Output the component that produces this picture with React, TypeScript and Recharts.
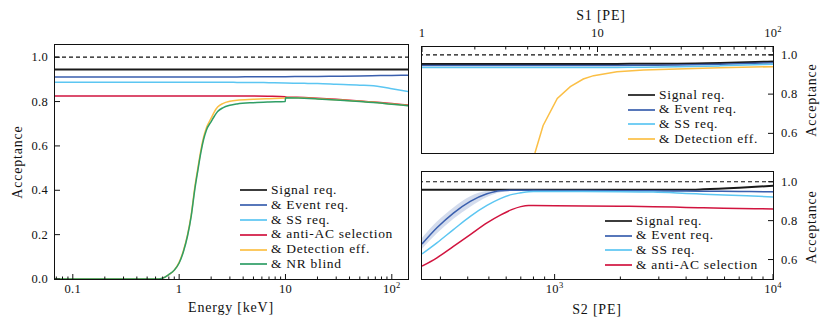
import React from "react";
import { Area, ComposedChart, Line, ReferenceLine, XAxis, YAxis } from "recharts";

// ---- left panel: acceptance vs. energy ----
const energyKeV = [0.068, 0.1, 0.2, 0.4, 0.6, 0.7, 0.8, 0.9, 1.0, 1.1, 1.2, 1.3, 1.4, 1.5, 1.6, 1.7, 1.8, 2.0, 2.15, 2.3, 2.6, 3.0, 3.5, 5, 7, 9.95, 10, 15, 20, 30, 50, 78, 100, 142];
const energySignal = [0.945, 0.945, 0.945, 0.945, 0.945, 0.945, 0.945, 0.945, 0.945, 0.945, 0.945, 0.945, 0.945, 0.945, 0.945, 0.945, 0.945, 0.945, 0.945, 0.945, 0.945, 0.945, 0.945, 0.945, 0.945, 0.945, 0.945, 0.945, 0.945, 0.945, 0.945, 0.945, 0.945, 0.945];
const energyEvent = [0.911, 0.911, 0.911, 0.911, 0.911, 0.911, 0.911, 0.911, 0.911, 0.911, 0.911, 0.911, 0.911, 0.911, 0.911, 0.911, 0.911, 0.911, 0.911, 0.911, 0.911, 0.911, 0.911, 0.912, 0.912, 0.912, 0.912, 0.913, 0.913, 0.914, 0.915, 0.917, 0.918, 0.919];
const energySS = [0.887, 0.887, 0.887, 0.887, 0.887, 0.887, 0.887, 0.887, 0.887, 0.887, 0.887, 0.887, 0.887, 0.887, 0.887, 0.887, 0.887, 0.887, 0.887, 0.887, 0.887, 0.887, 0.886, 0.886, 0.885, 0.884, 0.884, 0.882, 0.881, 0.878, 0.874, 0.867, 0.858, 0.845];
const energyAntiAC = [0.825, 0.825, 0.825, 0.825, 0.825, 0.825, 0.825, 0.825, 0.825, 0.825, 0.825, 0.825, 0.825, 0.825, 0.825, 0.825, 0.825, 0.825, 0.825, 0.825, 0.825, 0.825, 0.825, 0.825, 0.824, 0.822, 0.821, 0.818, 0.815, 0.81, 0.803, 0.796, 0.791, 0.784];
const energyDetection = [0, 0, 0, 0, 0, 0.004, 0.02, 0.04, 0.075, 0.13, 0.2, 0.29, 0.41, 0.5, 0.58, 0.64, 0.68, 0.725, 0.755, 0.775, 0.792, 0.801, 0.806, 0.81, 0.813, 0.816, 0.818, 0.816, 0.813, 0.808, 0.801, 0.794, 0.789, 0.782];
const energyNRBlind = [0, 0, 0, 0, 0, 0.004, 0.02, 0.04, 0.072, 0.125, 0.195, 0.285, 0.4, 0.49, 0.57, 0.63, 0.67, 0.71, 0.735, 0.755, 0.773, 0.783, 0.789, 0.795, 0.798, 0.8, 0.817, 0.815, 0.812, 0.807, 0.8, 0.793, 0.788, 0.781];

// ---- top right: acceptance vs. S1 ----
const s1PE = [1, 2, 3, 4, 4.4, 4.9, 5.9, 7, 8.3, 9.5, 12.9, 18.3, 28.5, 50, 100];
const s1Signal = [0.954, 0.954, 0.954, 0.954, 0.954, 0.954, 0.954, 0.954, 0.954, 0.954, 0.954, 0.955, 0.955, 0.958, 0.966];
const s1Event = [0.946, 0.946, 0.946, 0.946, 0.946, 0.946, 0.946, 0.946, 0.946, 0.946, 0.946, 0.947, 0.948, 0.952, 0.96];
const s1SS = [0.935, 0.935, 0.935, 0.935, 0.935, 0.935, 0.935, 0.935, 0.935, 0.935, 0.936, 0.937, 0.939, 0.944, 0.952];
const s1Detection = [null, null, null, 0.4, 0.5, 0.64, 0.778, 0.838, 0.877, 0.894, 0.914, 0.923, 0.928, 0.934, 0.94];

// ---- bottom right: acceptance vs. S2 ----
const s2PE = [247, 289, 344, 411, 490, 564, 640, 700, 760, 800, 1000, 2000, 2830, 4000, 4800, 7000, 10000];
const s2Signal = [0.959, 0.959, 0.959, 0.959, 0.959, 0.959, 0.959, 0.959, 0.959, 0.959, 0.959, 0.959, 0.959, 0.959, 0.961, 0.969, 0.979];
const s2Event = [0.68, 0.763, 0.839, 0.899, 0.938, 0.954, 0.956, 0.956, 0.956, 0.956, 0.955, 0.954, 0.953, 0.952, 0.951, 0.95, 0.948];
const s2EventLo = [0.655, 0.735, 0.81, 0.872, 0.922, 0.946, 0.952, 0.953, 0.953, 0.953, 0.952, 0.951, 0.95, 0.949, 0.948, 0.947, 0.945];
const s2EventHi = [0.712, 0.795, 0.868, 0.925, 0.953, 0.96, 0.96, 0.959, 0.959, 0.959, 0.958, 0.957, 0.956, 0.955, 0.954, 0.953, 0.951];
const s2SS = [0.629, 0.686, 0.754, 0.822, 0.878, 0.913, 0.935, 0.943, 0.949, 0.95, 0.95, 0.949, 0.947, 0.94, 0.936, 0.929, 0.922];
const s2AntiAC = [0.566, 0.609, 0.668, 0.728, 0.788, 0.828, 0.858, 0.872, 0.878, 0.878, 0.877, 0.874, 0.872, 0.868, 0.866, 0.863, 0.86];

const accTicksLeft = [0, 0.2, 0.4, 0.6, 0.8, 1.0];
const accTicksRight = [0.6, 0.8, 1.0];

const C = {
  signal: "#1a1a1a",
  event: "#3a5fae",
  ss: "#5cc6f2",
  antiAC: "#d1143f",
  detection: "#fbbf45",
  nr: "#2f9e66",
};

const FONT = "'Liberation Serif', serif";

const energyRows = energyKeV.map((e, i) => ({
  e,
  signal: energySignal[i],
  event: energyEvent[i],
  ss: energySS[i],
  antiAC: energyAntiAC[i],
  detection: energyDetection[i],
  nr: energyNRBlind[i],
}));

const s1Rows = s1PE.map((s, i) => ({
  s,
  signal: s1Signal[i],
  event: s1Event[i],
  ss: s1SS[i],
  detection: s1Detection[i],
}));

const s2Rows = s2PE.map((s, i) => ({
  s,
  signal: s2Signal[i],
  event: s2Event[i],
  eventBand: [s2EventLo[i], s2EventHi[i]],
  ss: s2SS[i],
  antiAC: s2AntiAC[i],
}));

// 1..9 x 10^n ticks inside [lo, hi]
function logTicks(lo: number, hi: number) {
  const out: number[] = [];
  for (let d = Math.floor(Math.log10(lo)); d <= Math.ceil(Math.log10(hi)); d++) {
    for (let m = 1; m < 10; m++) {
      const v = m * Math.pow(10, d);
      if (v >= lo && v <= hi) out.push(Number(v.toPrecision(3)));
    }
  }
  return out;
}

const isDecade = (v: number) => Math.abs(Math.log10(v) - Math.round(Math.log10(v))) < 1e-6;

function logLabel(v: number) {
  const p = Math.round(Math.log10(v));
  if (p <= 1 && p >= -1) return <tspan>{String(v)}</tspan>;
  return (
    <>
      <tspan>10</tspan>
      <tspan dy={-5} fontSize={8.5}>{p}</tspan>
    </>
  );
}

type Side = "bottom" | "top" | "left" | "right";

function makeTick(side: Side, log: boolean) {
  return (props: any) => {
    const { x, y, payload } = props;
    const v = payload.value as number;
    const major = log ? isDecade(v) : true;
    const len = major ? 5 : 2.5;
    const style = { fontFamily: FONT, fontSize: 12.5, fill: "#111", letterSpacing: 0.3 };
    let line;
    let label = null;
    if (side === "bottom") {
      line = <line x1={x} x2={x} y1={y} y2={y - len} stroke="#111" />;
      if (major)
        label = (
          <text x={x} y={y + 14} textAnchor="middle" {...style}>
            {logLabel(v)}
          </text>
        );
    } else if (side === "top") {
      line = <line x1={x} x2={x} y1={y} y2={y + len} stroke="#111" />;
      if (major)
        label = (
          <text x={x} y={y - 10} textAnchor="middle" {...style}>
            {logLabel(v)}
          </text>
        );
    } else if (side === "left") {
      line = <line x1={x} x2={x + len} y1={y} y2={y} stroke="#111" />;
      label = (
        <text x={x - 7} y={y + 4} textAnchor="end" {...style}>
          {v.toFixed(1)}
        </text>
      );
    } else {
      line = <line x1={x} x2={x - len} y1={y} y2={y} stroke="#111" />;
      label = (
        <text x={x + 8} y={y + 4} textAnchor="start" {...style}>
          {v.toFixed(1)}
        </text>
      );
    }
    return (
      <g>
        {line}
        {label}
      </g>
    );
  };
}

function Frame({ left, top, width, height }: { left: number; top: number; width: number; height: number }) {
  return (
    <div
      style={{
        position: "absolute",
        left: left - 0.75,
        top: top - 0.75,
        width: width + 1.5,
        height: height + 1.5,
        border: "1.5px solid #111",
        boxSizing: "border-box",
        pointerEvents: "none",
      }}
    />
  );
}

function Legend({ left, top, items }: { left: number; top: number; items: { name: string; color: string }[] }) {
  return (
    <div style={{ position: "absolute", left, top, fontFamily: FONT, fontSize: 13.5, letterSpacing: 0.7, color: "#111", lineHeight: "14.8px" }}>
      {items.map((it) => (
        <div key={it.name} style={{ display: "flex", alignItems: "center", whiteSpace: "nowrap", height: 14.8 }}>
          <span style={{ display: "inline-block", width: 27, height: 2, background: it.color, opacity: 0.85, marginRight: 4 }} />
          <span>{it.name}</span>
        </div>
      ))}
    </div>
  );
}

function Title({ x, y, text, rotate }: { x: number; y: number; text: string; rotate?: boolean }) {
  return (
    <div
      style={{
        position: "absolute",
        left: x,
        top: y,
        transform: `translate(-50%, -50%)${rotate ? " rotate(-90deg)" : ""}`,
        fontFamily: FONT,
        fontSize: 14,
        letterSpacing: 0.8,
        color: "#111",
        whiteSpace: "nowrap",
      }}
    >
      {text}
    </div>
  );
}

const lineProps = { dot: false, isAnimationActive: false, type: "monotone" as const, strokeWidth: 1.5 };

export default function App() {
  return (
    <div style={{ position: "absolute", left: 0, top: 0, width: 830, height: 329, background: "#fff", overflow: "hidden" }}>
      {/* left panel */}
      <div style={{ position: "absolute", left: 0, top: 0 }}>
        <ComposedChart width={420} height={329} data={energyRows} margin={{ top: 45, right: 12, left: 0, bottom: 0 }}>
          <XAxis
            dataKey="e"
            type="number"
            scale="log"
            domain={[0.068, 142]}
            allowDataOverflow
            ticks={logTicks(0.068, 142)}
            interval={0}
            height={50}
            tickSize={0}
            tickMargin={0}
            axisLine={false}
            tick={makeTick("bottom", true)}
          />
          <YAxis
            type="number"
            domain={[0, 1.055]}
            allowDataOverflow
            ticks={accTicksLeft}
            interval={0}
            width={55}
            tickSize={0}
            tickMargin={0}
            axisLine={false}
            tick={makeTick("left", false)}
          />
          <ReferenceLine y={1} stroke="#111" strokeDasharray="4 3" strokeWidth={1.2} />
          <Line dataKey="signal" stroke={C.signal} {...lineProps} strokeWidth={2} />
          <Line dataKey="event" stroke={C.event} {...lineProps} />
          <Line dataKey="ss" stroke={C.ss} {...lineProps} />
          <Line dataKey="antiAC" stroke={C.antiAC} {...lineProps} />
          <Line dataKey="detection" stroke={C.detection} {...lineProps} />
          <Line dataKey="nr" stroke={C.nr} {...lineProps} />
        </ComposedChart>
      </div>
      <Frame left={55} top={45} width={353} height={234} />
      <Legend
        left={240}
        top={183}
        items={[
          { name: "Signal req.", color: C.signal },
          { name: "& Event req.", color: C.event },
          { name: "& SS req.", color: C.ss },
          { name: "& anti-AC selection", color: C.antiAC },
          { name: "& Detection eff.", color: C.detection },
          { name: "& NR blind", color: C.nr },
        ]}
      />
      <Title x={231} y={308} text="Energy [keV]" />
      <Title x={18} y={162} text="Acceptance" rotate />

      {/* top right panel */}
      <div style={{ position: "absolute", left: 410, top: 0 }}>
        <ComposedChart width={420} height={165} data={s1Rows} margin={{ top: 0, right: 0, left: 12, bottom: 12 }}>
          <XAxis
            dataKey="s"
            type="number"
            scale="log"
            orientation="top"
            domain={[1, 100]}
            allowDataOverflow
            ticks={logTicks(1, 100)}
            interval={0}
            height={47}
            tickSize={0}
            tickMargin={0}
            axisLine={false}
            tick={makeTick("top", true)}
          />
          <YAxis
            type="number"
            orientation="right"
            domain={[0.5, 1.04]}
            allowDataOverflow
            ticks={accTicksRight}
            interval={0}
            width={57}
            tickSize={0}
            tickMargin={0}
            axisLine={false}
            tick={makeTick("right", false)}
          />
          <ReferenceLine y={1} stroke="#111" strokeDasharray="4 3" strokeWidth={1.2} />
          <Line dataKey="signal" stroke={C.signal} {...lineProps} strokeWidth={2} />
          <Line dataKey="event" stroke={C.event} {...lineProps} />
          <Line dataKey="ss" stroke={C.ss} {...lineProps} />
          <Line dataKey="detection" stroke={C.detection} {...lineProps} type="linear" />
        </ComposedChart>
      </div>
      <Frame left={422} top={47} width={351} height={106} />
      <Legend
        left={628}
        top={87.5}
        items={[
          { name: "Signal req.", color: C.signal },
          { name: "& Event req.", color: C.event },
          { name: "& SS req.", color: C.ss },
          { name: "& Detection eff.", color: C.detection },
        ]}
      />
      <Title x={601} y={16} text="S1 [PE]" />
      <Title x={812} y={100} text="Acceptance" rotate />

      {/* bottom right panel */}
      <div style={{ position: "absolute", left: 410, top: 160 }}>
        <ComposedChart width={420} height={169} data={s2Rows} margin={{ top: 12, right: 0, left: 12, bottom: 0 }}>
          <XAxis
            dataKey="s"
            type="number"
            scale="log"
            domain={[247, 10000]}
            allowDataOverflow
            ticks={logTicks(247, 10000)}
            interval={0}
            height={50}
            tickSize={0}
            tickMargin={0}
            axisLine={false}
            tick={makeTick("bottom", true)}
          />
          <YAxis
            type="number"
            orientation="right"
            domain={[0.5, 1.05]}
            allowDataOverflow
            ticks={accTicksRight}
            interval={0}
            width={57}
            tickSize={0}
            tickMargin={0}
            axisLine={false}
            tick={makeTick("right", false)}
          />
          <ReferenceLine y={1} stroke="#111" strokeDasharray="4 3" strokeWidth={1.2} />
          <Area dataKey="eventBand" type="monotone" stroke="none" fill={C.event} fillOpacity={0.22} isAnimationActive={false} />
          <Line dataKey="signal" stroke={C.signal} {...lineProps} strokeWidth={2} />
          <Line dataKey="event" stroke={C.event} {...lineProps} />
          <Line dataKey="ss" stroke={C.ss} {...lineProps} />
          <Line dataKey="antiAC" stroke={C.antiAC} {...lineProps} />
        </ComposedChart>
      </div>
      <Frame left={422} top={172} width={351} height={107} />
      <Legend
        left={605}
        top={213.5}
        items={[
          { name: "Signal req.", color: C.signal },
          { name: "& Event req.", color: C.event },
          { name: "& SS req.", color: C.ss },
          { name: "& anti-AC selection", color: C.antiAC },
        ]}
      />
      <Title x={597} y={310} text="S2 [PE]" />
      <Title x={812} y={227} text="Acceptance" rotate />
    </div>
  );
}
